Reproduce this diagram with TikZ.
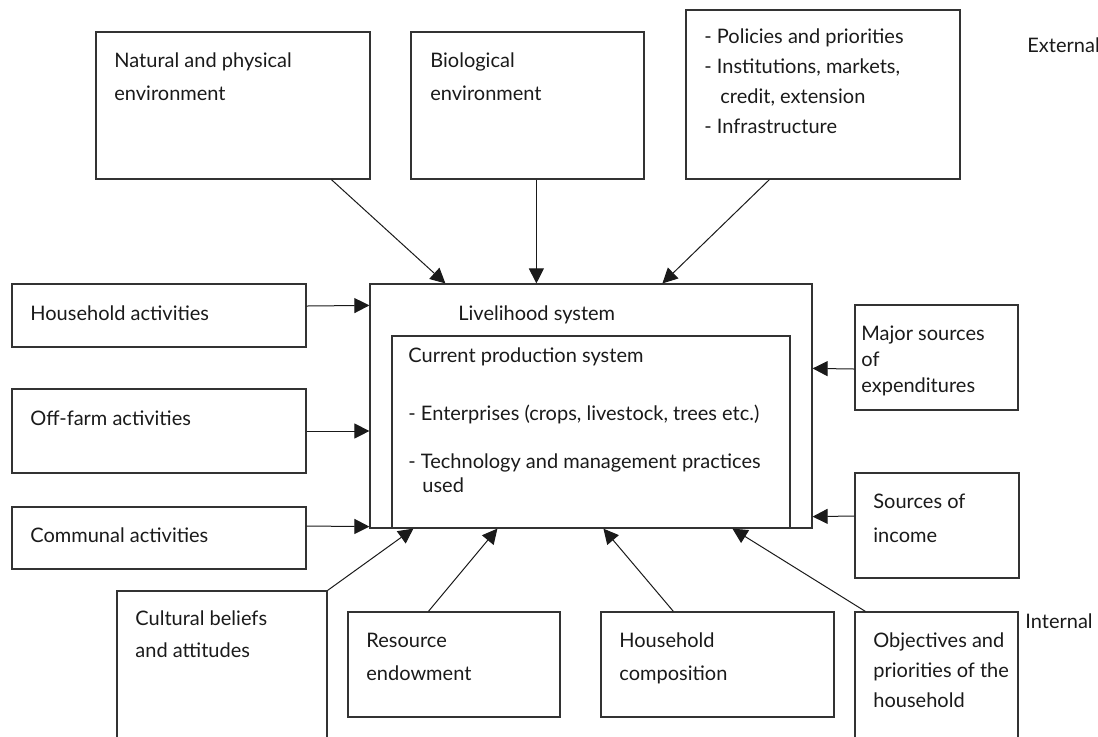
\documentclass[tikz,border=0pt]{standalone}
\usepackage{fontspec}
\setmainfont{Lato}
\usetikzlibrary{arrows.meta,fit}
\definecolor{ink}{HTML}{1A1A1A}
\definecolor{edge}{HTML}{333333}
\tikzset{
  every node/.style={font=\fontsize{10}{15}\selectfont},
  box/.style={draw=edge, line width=0.6pt, inner sep=0pt, fit={#1}},
  txt/.style={anchor=base west, align=left, inner sep=0pt, text=ink}, % base = last line
  lsp/.style={font=\fontsize{10}{#1}\selectfont},
  ar/.style={-{Triangle[length=7.5pt,width=7.5pt]}, line width=0.5pt, draw=ink},
}
\begin{document}
\begin{tikzpicture}[x=0.5pt, y=-0.5pt]
\useasboundingbox (0,0) rectangle (1098,736);

% ============ external factors ==============================================
\node[box={(96,32) (370,179)}] (nat) {};
\node[box={(411,32) (644,179)}] (bio) {};
\node[box={(686,10) (960,179)}] (pol) {};
\node[txt, lsp=16.5pt] (natT) at (114,100) {Natural and physical\\environment};
\node[txt, lsp=16.5pt] (bioT) at (430,100) {Biological\\environment};
\node[txt, lsp=15pt] (polT) at (704,133)
  {- Policies and priorities\\- Institutions, markets,\\\hspace*{8pt}credit, extension\\- Infrastructure};
\node[txt] (ext) at (1027,52) {External};

% ============ livelihood system =============================================
\node[box={(370,284) (812,528)}] (liv) {};
\node[box={(392,336) (790,528)}] (cps) {};
\node[txt] (livT) at (458,320) {Livelihood system};
\node[txt, lsp=12pt] (cpsT) at (408,492)
  {Current production system\\[17pt]- Enterprises (crops, livestock, trees etc.)\\[12pt]- Technology and management practices\\\hspace*{7pt}used};

% ============ activities (left) and money flows (right) =====================
\node[box={(12,284) (306,347)}] (hha) {};
\node[box={(12,389) (306,473)}] (off) {};
\node[box={(12,507) (306,569)}] (com) {};
\node[txt] (hhaT) at (30,320) {Household activities};
\node[txt] (offT) at (30,425) {Off-farm activities};
\node[txt] (comT) at (30,542) {Communal activities};

\node[box={(855,305) (1018,410)}] (exp) {};
\node[box={(855,473) (1019,578)}] (inc) {};
\node[txt, lsp=13pt] (expT) at (861,392) {Major sources\\of\\expenditures};
\node[txt, lsp=17pt] (incT) at (873,542) {Sources of\\income};

% ============ internal factors ==============================================
\node[box={(117,591) (327,740)}] (cul) {};
\node[box={(348,612) (560,717)}] (res) {};
\node[box={(601,612) (834,717)}] (hhc) {};
\node[box={(855,612) (1018,740)}] (obj) {};
\node[txt, lsp=16pt] (culT) at (135,657) {Cultural beliefs\\and attitudes};
\node[txt, lsp=16.5pt] (resT) at (366,680) {Resource\\endowment};
\node[txt, lsp=16.5pt] (hhcT) at (619,680) {Household\\composition};
\node[txt, lsp=15pt] (objT) at (873,707) {Objectives and\\priorities of the\\household};
\node[txt] (int) at (1025,628) {Internal};

% ============ arrows ========================================================
\draw[ar] ([xshift=118pt]nat.south west) -- ([xshift=38pt]liv.north west);
\draw[ar] ([xshift=63pt]bio.south west) -- ([xshift=83.5pt]liv.north west);
\draw[ar] ([xshift=42pt]pol.south west) -- ([xshift=146.5pt]liv.north west);

\draw[ar] ([yshift=4.75pt]hha.east) -- ([yshift=-11pt]liv.north west);
\draw[ar] (off.east) -- (off.east -| liv.west);
\draw[ar] ([yshift=6pt]com.east) -- ([yshift=1pt]liv.south west);

\draw[ar] ([yshift=-5.75pt]exp.west) -- ([yshift=-42.5pt]liv.north east);
\draw[ar] ([yshift=4.75pt]inc.west) -- ([yshift=6pt]liv.south east);

\draw[ar] (cul.north east) -- ([xshift=11pt]cps.south west);
\draw[ar] ([xshift=40.5pt]res.north west) -- ([xshift=53pt]cps.south west);
\draw[ar] ([xshift=36.5pt]hhc.north west) -- ([xshift=106pt]cps.south west);
\draw[ar] ([xshift=5.5pt]obj.north west) -- ([xshift=170.5pt]cps.south west);

\end{tikzpicture}
\end{document}
